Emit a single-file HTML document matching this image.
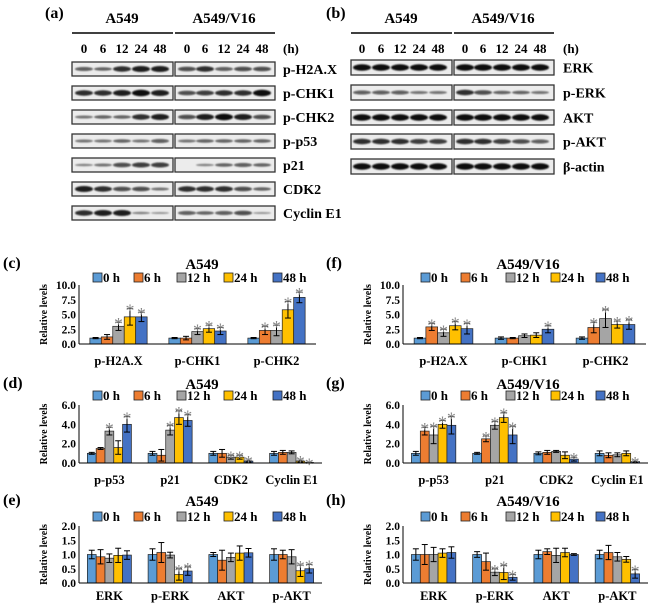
<!DOCTYPE html>
<html><head><meta charset="utf-8">
<style>
html,body{margin:0;padding:0;background:#fff;}
svg{display:block;font-family:"Liberation Serif",serif;font-weight:bold;}
</style></head>
<body>
<svg id="fig" width="650" height="604" viewBox="0 0 650 604" xmlns="http://www.w3.org/2000/svg">
<defs><filter id="blur" x="-50%" y="-100%" width="200%" height="300%"><feGaussianBlur stdDeviation="0.8"/></filter></defs>
</svg>
<script>
// ---------- chart data ----------
const seriesNames = ["0 h","6 h","12 h","24 h","48 h"];
const catsC = ["p-H2A.X","p-CHK1","p-CHK2"];
const valsC = [[1,1.2,3,4.6,4.6],[1,1,2.1,2.6,2.2],[1,2.3,2.3,5.8,7.9]];
const errC  = [[0.1,0.4,0.7,1.4,0.8],[0.1,0.3,0.5,0.6,0.6],[0.1,0.7,0.9,1.4,0.9]];
const starC = [[0,0,1,1,1],[0,0,1,1,1],[0,1,1,1,1]];
const ticksC = ["0.0","2.5","5.0","7.5","10.0"];
const catsF = ["p-H2A.X","p-CHK1","p-CHK2"];
const valsF = [[1,2.9,1.9,3.1,2.6],[1,1,1.4,1.5,2.5],[1,2.8,4.3,3.3,3.3]];
const errF  = [[0.1,0.6,0.6,0.7,0.9],[0.2,0.1,0.3,0.4,0.6],[0.2,0.9,1.5,0.6,0.8]];
const starF = [[0,1,1,1,1],[0,0,0,0,1],[0,1,1,1,1]];
const catsD = ["p-p53","p21","CDK2","Cyclin E1"];
const valsD = [[1,1.5,3.3,1.6,4],[1,0.8,3.4,4.7,4.4],[1,1,0.6,0.6,0.2],[1,1.1,1.1,0.2,0.05]];
const errD  = [[0.1,0.1,0.4,0.7,0.8],[0.2,0.6,0.5,0.7,0.6],[0.2,0.4,0.2,0.2,0.1],[0.2,0.2,0.15,0.1,0.02]];
const starD = [[0,0,1,0,1],[0,0,1,1,1],[0,0,1,1,1],[0,0,0,1,1]];
const ticksD = ["0.0","2.0","4.0","6.0"];
const catsG = ["p-p53","p21","CDK2","Cyclin E1"];
const valsG = [[1,3.3,2.9,4,3.9],[1,2.5,3.9,4.7,2.9],[1,1.1,1.2,0.8,0.4],[1,0.8,0.85,1,0.15]];
const errG  = [[0.2,0.4,0.9,0.4,0.9],[0.1,0.3,0.4,0.5,0.9],[0.15,0.2,0.1,0.35,0.2],[0.25,0.25,0.2,0.25,0.05]];
const starG = [[0,1,1,1,1],[0,1,1,1,1],[0,0,0,0,1],[0,0,0,0,1]];
const catsE = ["ERK","p-ERK","AKT","p-AKT"];
const valsE = [[1,0.92,0.87,0.97,0.98],[1,1.07,0.98,0.3,0.42],[1,0.8,0.9,1.05,1.06],[1,1,0.92,0.43,0.5]];
const errE  = [[0.15,0.25,0.15,0.25,0.15],[0.2,0.35,0.1,0.2,0.15],[0.07,0.35,0.15,0.25,0.15],[0.2,0.15,0.25,0.2,0.15]];
const starE = [[0,0,0,0,0],[0,0,0,1,1],[0,0,0,0,0],[0,0,0,1,1]];
const ticksE = ["0.0","0.5","1.0","1.5","2.0"];
const catsH = ["ERK","p-ERK","AKT","p-AKT"];
const valsH = [[1,1,1,1.05,1.07],[1,0.75,0.38,0.37,0.2],[1,1.1,0.97,1.07,1],[1,1.07,0.92,0.83,0.32]];
const errH  = [[0.2,0.35,0.25,0.15,0.2],[0.1,0.3,0.12,0.25,0.1],[0.15,0.1,0.25,0.15,0.03],[0.15,0.25,0.15,0.1,0.15]];
const starH = [[0,0,0,0,0],[0,0,1,1,1],[0,0,0,0,0],[0,0,0,0,1]];

const colors = ["#5b9bd5","#ed7d31","#a5a5a5","#ffc000","#4472c4"];
const NS = "http://www.w3.org/2000/svg";
const svg = document.getElementById("fig");
function mk(tag, attrs, parent, txt){
  const e = document.createElementNS(NS, tag);
  for (const k in attrs) e.setAttribute(k, attrs[k]);
  if (txt !== undefined) e.textContent = txt;
  (parent || svg).appendChild(e);
  return e;
}

// ---------- blots ----------
const blotA = ["p-H2A.X","p-CHK1","p-CHK2","p-p53","p21","CDK2","Cyclin E1"];
const intA = [[.5,.4,.8,.9,.9, .6,.8,.5,.6,.6],[.8,.8,.9,1,.9, .6,.7,.8,.8,1],[.3,.4,.4,.8,.9, .6,.9,1,.9,.6],
  [.3,.3,.4,.3,.5, .3,.4,.4,.4,.4],[.2,.3,.6,.7,.7, .0,.2,.4,.5,.4],[.9,.8,.6,.6,.3, .8,.8,.8,.6,.4],[.8,.9,.9,.2,.1, .5,.4,.5,.6,.1]];
const blotB = ["ERK","p-ERK","AKT","p-AKT","β-actin"];
const intB = [[1,1,1,1,1, 1,1,1,1,1],[.5,.5,.5,.3,.3, .8,.6,.4,.4,.3],[1,1,1,1,1, 1,1,1,1,1],[.8,.8,.8,.7,.7, .8,.8,.7,.6,.5],[1,1,1,1,1, 1,1,1,1,1]];
function blotPanel(g, label, lx, hdr, lines, lanes, rows, rowY, rowH, names, ints, labX){
  const t = mk("text",{x:lx,y:18,"font-size":16},null,label);
  
  
  hdr.forEach((h,i)=>{
    const e = mk("text",{x:h[1],y:23,"font-size":15,"text-anchor":"middle"},null,h[0]);
    
    
    mk("line",{x1:lines[i][0],x2:lines[i][1],y1:33,y2:33,stroke:"#000","stroke-width":1.5});
  });
  const times = ["0","6","12","24","48","0","6","12","24","48"];
  lanes.forEach((x,i)=>{
    const e = mk("text",{x:x,y:53,"font-size":13,"text-anchor":"middle"},null,times[i]);
    
    
  });
  const hh = mk("text",{x:labX,y:53,"font-size":13},null,"(h)");
  
  
  rowY.forEach((y,r)=>{
    [[lines[0][0],lines[0][1]],[lines[1][0],lines[1][1]]].forEach(b=>{
      const box = mk("rect",{x:b[0],y:y,width:b[1]-b[0],height:rowH,fill:"#ececec",stroke:"#333","stroke-width":1.3});
      
      
    });
    lanes.forEach((x,i)=>{
      const v = ints[r][i];
      if (v<=0) return;
      mk("ellipse",{cx:x,cy:y+rowH/2,rx:9,ry:0.8+2.4*v,fill:"#0a0a0a","fill-opacity":0.3+0.7*v,filter:"url(#blur)"});
    });
    const l = mk("text",{x:labX,y:y+rowH/2+5,"font-size":14},null,names[r]);
    
    
  });
}
blotPanel(null,"(a)",45,[["A549",122],["A549/V16",224]],[[72,173],[175,275]],
  [84,103,122,141,160,187,205,224,243,262],null,[62,86,110,134,158,182,206],14,blotA,intA,283);
blotPanel(null,"(b)",326,[["A549",401],["A549/V16",503]],[[351,452],[454,554]],
  [362,381,400,419,438,465,483,502,521,540],null,[60,85,110,134,159],15,blotB,intB,563);

// ---------- bar charts ----------
function chart(c){
  const g = mk("g",{});
  
  
  const pl = mk("text",{x:c.lx,y:c.titleY,"font-size":16},g,c.label);
  
  
  const tt = mk("text",{x:c.tx,y:c.titleY+1,"font-size":15,"text-anchor":"middle"},g,c.title);
  
  
  seriesNames.forEach((s,i)=>{
    const x = c.legX[i];
    const sq = mk("rect",{x:x,y:c.legY-9,width:9,height:9,fill:colors[i],stroke:"#222","stroke-width":0.8},g);
    
    
    const lt = mk("text",{x:x+10,y:c.legY,"font-size":13},g,s);
    
    
  });
  const ymax = c.ymax;
  const Y = v => c.yBot - (v/ymax)*(c.yBot-c.yTop);
  const gw = (c.x1 - c.x0)/c.cats.length;
  const bw = gw*0.145;
  const X = (ci,si) => c.x0 + gw*(ci+0.5) + (si-2.5)*bw;
  const yl = mk("text",{x:0,y:0,"font-size":10,"text-anchor":"middle",transform:`translate(${c.x0-32},${(c.yTop+c.yBot)/2}) rotate(-90)`},g,"Relative levels");
  
  
  c.ticks.forEach(t=>{
    const v = parseFloat(t);
    const e = mk("text",{x:c.x0-3,y:Y(v)+4,"font-size":11.5,"text-anchor":"end"},g,t);
    
    
  });
  c.cats.forEach((cat,ci)=>{
    c.vals[ci].forEach((v,si)=>{
      const x = X(ci,si), y = Y(v);
      const b = mk("rect",{x:x,y:y,width:bw,height:c.yBot-y,fill:colors[si],stroke:"#222","stroke-width":0.7},g);
      
      
      const e = c.err[ci][si], cx = x+bw/2;
      const yt = Y(v+e), yb = Y(Math.max(0,v-e));
      mk("line",{x1:cx,x2:cx,y1:yt,y2:yb,stroke:"#000","stroke-width":1},g);
      mk("line",{x1:cx-3,x2:cx+3,y1:yt,y2:yt,stroke:"#000","stroke-width":1},g);
      mk("line",{x1:cx-3,x2:cx+3,y1:yb,y2:yb,stroke:"#000","stroke-width":1},g);
      if (c.stars[ci][si]){
        const s = mk("text",{x:cx,y:yt+8,"font-size":18,"font-weight":"normal",fill:"#888","text-anchor":"middle"},g,"*");
        
        
      }
    });
    const cl = mk("text",{x:c.x0+gw*(ci+0.5),y:c.catY,"font-size":12.5,"text-anchor":"middle"},g,cat);
    
    
  });
  mk("line",{x1:c.x0,x2:c.x0,y1:c.yTop,y2:c.yBot,stroke:"#000","stroke-width":1},g);
  mk("line",{x1:c.x0,x2:c.x1,y1:c.yBot,y2:c.yBot,stroke:"#000","stroke-width":1},g);
}
const legL = [93,134,177,224,273], legR = [421,461,506,551,596];
chart({name:"chart-c",label:"(c)",lx:3,title:"A549",tx:202,titleY:268,legY:282,legX:legL,x0:79,x1:316,yTop:285,yBot:344,ymax:10,ticks:ticksC,cats:catsC,vals:valsC,err:errC,stars:starC,catY:365});
chart({name:"chart-f",label:"(f)",lx:326,title:"A549/V16",tx:528,titleY:268,legY:282,legX:legR,x0:403,x1:646,yTop:285,yBot:344,ymax:10,ticks:ticksC,cats:catsF,vals:valsF,err:errF,stars:starF,catY:365});
chart({name:"chart-d",label:"(d)",lx:3,title:"A549",tx:202,titleY:388,legY:400,legX:legL,x0:79,x1:322,yTop:405,yBot:463,ymax:6,ticks:ticksD,cats:catsD,vals:valsD,err:errD,stars:starD,catY:484});
chart({name:"chart-g",label:"(g)",lx:326,title:"A549/V16",tx:528,titleY:388,legY:400,legX:legR,x0:403,x1:648,yTop:405,yBot:463,ymax:6,ticks:ticksD,cats:catsG,vals:valsG,err:errG,stars:starG,catY:484});
chart({name:"chart-e",label:"(e)",lx:3,title:"A549",tx:202,titleY:505,legY:521,legX:legL,x0:79,x1:322,yTop:526,yBot:583,ymax:2,ticks:ticksE,cats:catsE,vals:valsE,err:errE,stars:starE,catY:600});
chart({name:"chart-h",label:"(h)",lx:326,title:"A549/V16",tx:528,titleY:505,legY:521,legX:legR,x0:403,x1:648,yTop:526,yBot:583,ymax:2,ticks:ticksE,cats:catsH,vals:valsH,err:errH,stars:starH,catY:600});
</script>
</body></html>
